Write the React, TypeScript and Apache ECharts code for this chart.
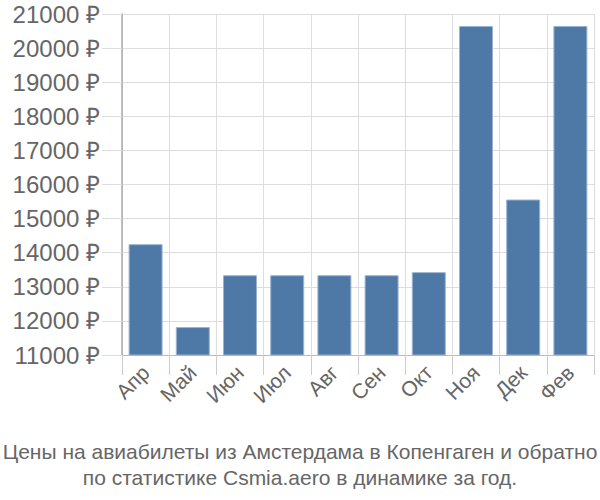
import React, { useEffect, useRef } from "react";
import * as echarts from "echarts";

const categories = ["Апр", "Май", "Июн", "Июл", "Авг", "Сен", "Окт", "Ноя", "Дек", "Фев"];
const prices = [14250, 11820, 13340, 13340, 13340, 13340, 13430, 20650, 15560, 20650];
const titleLines = [
  "Цены на авиабилеты из Амстердама в Копенгаген и обратно",
  "по статистике Csmia.aero в динамике за год.",
];

export default function App() {
  const ref = useRef<HTMLDivElement>(null);
  useEffect(() => {
    const chart = echarts.init(ref.current!, null, { renderer: "svg" });
    chart.setOption({
      animation: false,
      textStyle: { fontFamily: "Liberation Sans, Arial, sans-serif" },
      title: {
        text: titleLines.join("\n"),
        left: "center",
        top: 433,
        textStyle: {
          fontSize: 21,
          fontWeight: "normal",
          color: "#666",
          lineHeight: 26,
          fontFamily: "Liberation Sans, Arial, sans-serif",
        },
      },
      grid: { left: 122, right: 6, top: 14, bottom: 145 },
      xAxis: {
        type: "category",
        data: categories,
        boundaryGap: true,
        axisLine: { show: true, lineStyle: { color: "#bbb", width: 1 } },
        axisTick: { show: true, length: 20, lineStyle: { color: "#ccc" } },
        splitLine: { show: true, lineStyle: { color: "#ddd", width: 1 } },
        axisLabel: {
          rotate: 45,
          fontSize: 21,
          color: "#666",
          margin: 14,
          interval: 0,
        },
      },
      yAxis: {
        type: "value",
        min: 11000,
        max: 21000,
        interval: 1000,
        axisLine: { show: true, lineStyle: { color: "#aaa", width: 1.5 } },
        axisTick: { show: true, length: 20, lineStyle: { color: "#ddd" } },
        splitLine: { show: true, lineStyle: { color: "#ddd", width: 1 } },
        axisLabel: {
          fontSize: 24,
          color: "#666",
          margin: 22,
          formatter: (v: number) => `${v} ₽`,
        },
      },
      series: [
        {
          type: "bar",
          data: prices,
          barCategoryGap: "28%",
          itemStyle: { color: "#4e79a7", borderColor: "#9bb4d0", borderWidth: 1 },
        },
      ],
    });
    return () => chart.dispose();
  }, []);
  return <div ref={ref} style={{ width: 600, height: 500, position: "absolute", left: 0, top: 0 }} />;
}
